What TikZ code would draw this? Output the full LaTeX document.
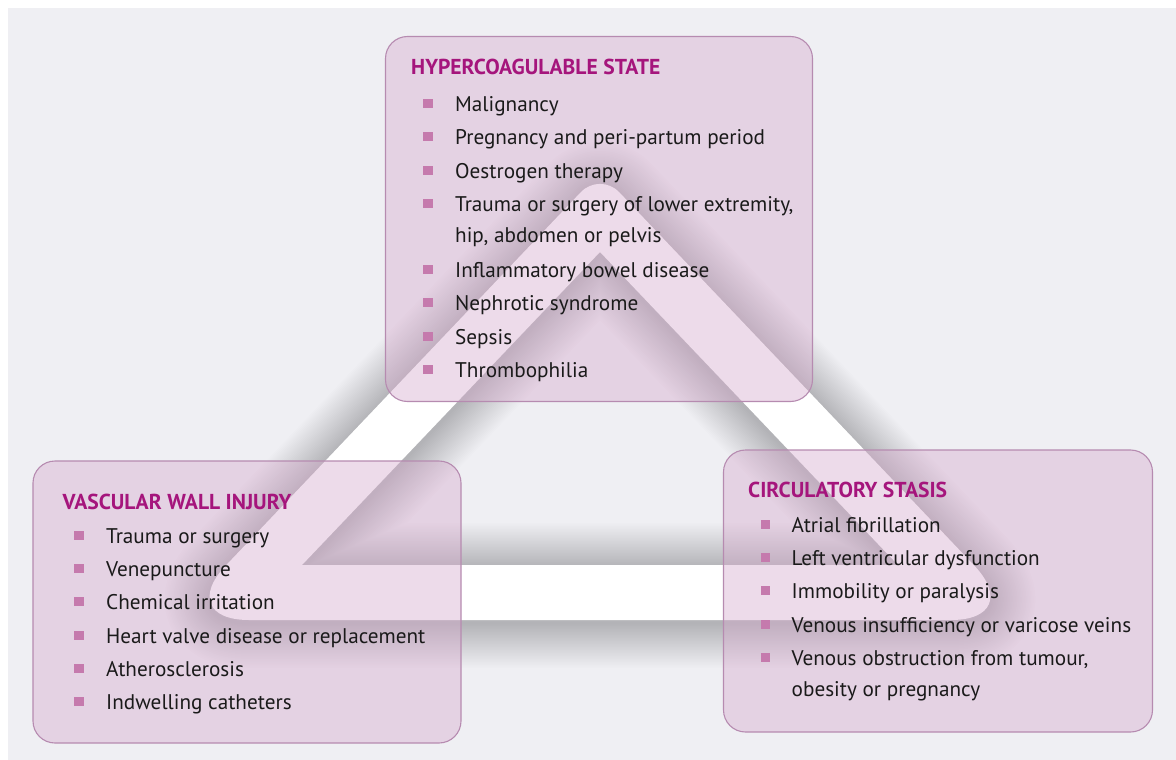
\documentclass[tikz,border=0pt]{standalone}
\usepackage{fontspec}
\setmainfont{PT Sans}
\usepackage{tikz}
\usetikzlibrary{positioning}

\definecolor{bggray}{HTML}{EFEFF3}
\definecolor{boxfill}{RGB}{214,170,205}
\definecolor{boxline}{HTML}{B68BB0}
\definecolor{titlecol}{HTML}{A5157C}
\definecolor{bulletcol}{HTML}{C57AAD}
\definecolor{itemtext}{HTML}{1A1A1A}

\begin{document}
\begin{tikzpicture}[x=1pt, y=-1pt,
    riskbox/.style={draw=boxline, line width=1.1pt, fill=boxfill, fill opacity=0.42,
      rounded corners=22pt, inner sep=0pt},
    boxtitle/.style={anchor=base west, inner sep=0pt, text=titlecol,
      font=\fontsize{21.6}{25}\selectfont\bfseries},
    riskitem/.style={anchor=base west, inner sep=0pt, text=itemtext,
      font=\fontsize{21.2}{26}\selectfont},
    bulletsq/.style={fill=bulletcol, minimum width=9.5pt, minimum height=9pt, inner sep=0pt},
    triframe/.style={insert path={
      (600,620) [rounded corners=75pt] -- (174,620) [rounded corners=28pt] -- (600,172)
      [rounded corners=75pt] -- (1026,620) -- cycle
      [sharp corners] (302,565) -- (600,252) -- (898,565) -- cycle}}]
    \useasboundingbox (0,0) rectangle (1176,760);
    \fill[white] (0,0) rectangle (1176,760);
    \fill[bggray] (8,8) rectangle (1176,760);

    % soft shadow round the triangle
    \begin{scope}[yshift=-3pt]
      \foreach \w in {3,6,...,90}
        \draw[black, opacity=0.009, line width=\w pt, line join=round, triframe];
    \end{scope}
    \fill[white, even odd rule, triframe];

    % the three boxes
    \node[riskbox, minimum width=427pt, minimum height=365pt] (hyp) at (599,219) {};
    \node[riskbox, minimum width=428pt, minimum height=282pt] (vwi) at (247,602) {};
    \node[riskbox, minimum width=429pt, minimum height=282pt] (cst) at (938,591) {};

    % hypercoagulable state
    \node[boxtitle] (hyptitle) at (411,75) {HYPERCOAGULABLE STATE};
    \foreach \y/\txt [count=\i] in {111.7/Malignancy, 144.7/Pregnancy and peri-partum period,
        178.7/Oestrogen therapy, 211.7/{Trauma or surgery of lower extremity,},
        277.7/Inflammatory bowel disease, 310.7/Nephrotic syndrome, 344.7/Sepsis,
        377.7/Thrombophilia}{
      \node[bulletsq] (hypb\i) at (428,\y-8) {};
      \node[riskitem] (hyp\i) at (455,\y) {\txt};
    }
    \node[riskitem] (hyp4b) at (455,242.7) {hip, abdomen or pelvis};

    % vascular wall injury
    \node[boxtitle] (vwititle) at (62.5,509) {VASCULAR WALL INJURY};
    \foreach \y/\txt [count=\i] in {543/Trauma or surgery, 576/Venepuncture,
        609/Chemical irritation, 643/Heart valve disease or replacement,
        676/Atherosclerosis, 709/Indwelling catheters}{
      \node[bulletsq] (vwib\i) at (79,\y-8) {};
      \node[riskitem] (vwi\i) at (106,\y) {\txt};
    }

    % circulatory stasis
    \node[boxtitle] (csttitle) at (748,497.7) {CIRCULATORY STASIS};
    \foreach \y/\txt [count=\i] in {532/Atrial fibrillation, 565/Left ventricular dysfunction,
        598.5/Immobility or paralysis, 632/Venous insufficiency or varicose veins,
        665/{Venous obstruction from tumour,}}{
      \node[bulletsq] (cstb\i) at (765.5,\y-8) {};
      \node[riskitem] (cst\i) at (791.5,\y) {\txt};
    }
    \node[riskitem] (cst5b) at (791.5,696.5) {obesity or pregnancy};
\end{tikzpicture}
\end{document}
